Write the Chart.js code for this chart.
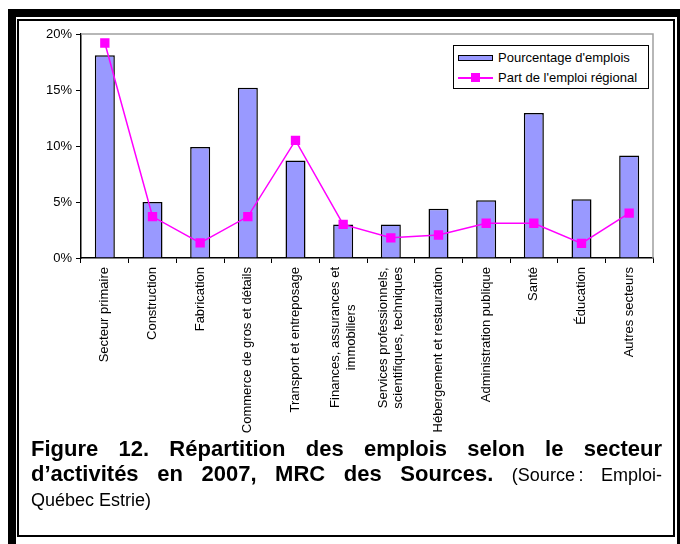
<!DOCTYPE html>
<html>
<head>
<meta charset="utf-8">
<script src="https://cdn.jsdelivr.net/npm/chart.js@4.4.1/dist/chart.umd.min.js"></script>
<style>
  html, body { margin: 0; padding: 0; background: #fff; }
  body { width: 680px; height: 544px; position: relative; overflow: hidden; font-family: "Liberation Sans", Arial, sans-serif; }
  .frame-outer { position: absolute; left: 8px; top: 9px; width: 677px; height: 545px; border: 8px solid #000; box-sizing: border-box; }
  .frame-inner { position: absolute; left: 17px; top: 19px; width: 658px; height: 518px; border: 2px solid #000; box-sizing: border-box; }
  #wrap { position: absolute; left: 18px; top: 20px; width: 654px; height: 420px; }
  #legend { position: absolute; left: 453px; top: 45px; width: 196px; height: 44px; border: 1px solid #000; box-sizing: border-box; background: #fff; font-size: 13px; color: #000; }
  #legend .item { position: absolute; left: 4px; height: 16px; line-height: 16px; white-space: nowrap; }
  #legend .sw { position: absolute; left: 0; width: 35px; }
  #legend .txt { position: absolute; left: 40px; top: 0; }
  #caption { position: absolute; left: 31px; top: 436px; width: 631px; color: #000; }
  #caption .j { font-weight: bold; font-size: 22px; line-height: 25px; text-align: justify; text-align-last: justify; white-space: nowrap; }
  #caption .src { font-weight: normal; font-size: 18px; }
  #caption .last { font-size: 18px; line-height: 24px; }
</style>
</head>
<body>
<div class="frame-outer"></div>
<div class="frame-inner"></div>
<div id="wrap"><canvas id="chart"></canvas></div>
<div id="legend">
  <div class="item" style="top:4px">
    <div class="sw" style="top:5px;height:6px;background:#9999ff;border:1.5px solid #000;box-sizing:border-box;"></div>
    <div class="txt">Pourcentage d'emplois</div>
  </div>
  <div class="item" style="top:24px">
    <div class="sw" style="top:7px;height:2px;background:#ff00ff;"></div>
    <div class="sw" style="left:13px;width:9px;top:3px;height:9px;background:#ff00ff;"></div>
    <div class="txt">Part de l'emploi régional</div>
  </div>
</div>
<div id="caption">
  <div class="j">Figure 12. Répartition des emplois selon le secteur</div>
  <div class="j">d’activités en 2007, MRC des Sources. <span class="src">(Source&#8239;: Emploi-</span></div>
  <div class="last">Québec Estrie)</div>
</div>
<script>
// ======================================
// DATA
// ======================================
const secteurs = [
    "Secteur primaire",
    "Construction",
    "Fabrication",
    "Commerce de gros et détails",
    "Transport et entreposage",
    ["Finances, assurances et", "immobiliers"],
    ["Services professionnels,", "scientifiques, techniques"],
    "Hébergement et restauration",
    "Administration publique",
    "Santé",
    "Éducation",
    "Autres secteurs"
];
// % des emplois de la MRC (barres)
const pourcentageEmplois = [18.1, 5.0, 9.9, 15.2, 8.7, 3.0, 3.0, 4.4, 5.15, 12.95, 5.25, 9.15];
// part de l'emploi régional (ligne)
const partRegionale = [19.2, 3.7, 1.35, 3.7, 10.5, 3.0, 1.8, 2.05, 3.1, 3.1, 1.3, 4.0];
const yTicks = [0, 5, 10, 15, 20];

// ======================================
// PLUGINS
// ======================================
// gray border on top and right of the plot area
const plotFrame = {
    id: "plotFrame",
    beforeDatasetsDraw(c) {
        const a = c.chartArea;
        const g = c.ctx;
        g.save();
        g.strokeStyle = "#a0a0a0";
        g.lineWidth = 1.5;
        g.beginPath();
        g.moveTo(a.left, a.top);
        g.lineTo(a.right, a.top);
        g.lineTo(a.right, a.bottom);
        g.stroke();
        g.restore();
    }
};

// center two-line rotated labels on their category (like Excel does)
const centerMultiLine = {
    id: "centerMultiLine",
    beforeDraw(c) {
        const items = c.scales.x.getLabelItems();
        const g = c.ctx;
        items.forEach(it => {
            if (!Array.isArray(it.label) || it._done) return;
            g.save();
            g.font = it.font.string;
            const w = Math.max(...it.label.map(l => g.measureText(l).width));
            g.restore();
            const t = it.options.translation;
            it.options.translation = [t[0] - it.font.lineHeight / 2, t[1] + w / 2];
            it.options.textAlign = "center";
            it._done = true;
        });
    }
};

// ======================================
// CHART INIT
// ======================================
Chart.defaults.font.family = "'Liberation Sans', Arial, sans-serif";
Chart.defaults.font.size = 13;
Chart.defaults.color = "#000";

const chart = new Chart(document.getElementById("chart"), {
    data: {
        labels: secteurs,
        datasets: [
            {
                type: "line",
                label: "Part de l'emploi régional",
                data: partRegionale,
                borderColor: "#ff00ff",
                backgroundColor: "#ff00ff",
                borderWidth: 1.5,
                pointStyle: "rect",
                pointRadius: 6.6,
                pointBorderWidth: 0,
                tension: 0,
                order: 0
            },
            {
                type: "bar",
                label: "Pourcentage d'emplois",
                data: pourcentageEmplois,
                backgroundColor: "#9999ff",
                borderColor: "#000",
                borderWidth: 1.5,
                categoryPercentage: 1,
                barPercentage: 0.42,
                order: 1
            }
        ]
    },
    options: {
        responsive: true,
        maintainAspectRatio: false,
        animation: false,
        layout: { padding: { top: 14, right: 19, left: 0, bottom: 0 } },
        plugins: {
            legend: { display: false },
            tooltip: { enabled: false }
        },
        scales: {
            x: {
                offset: true,
                grid: { offset: true, drawOnChartArea: false, tickLength: 5, color: "#000", lineWidth: 1 },
                border: { color: "#000", width: 1.5 },
                ticks: { minRotation: 90, maxRotation: 90, padding: 4, font: { size: 13 } },
                afterFit(s) { s.height = 182; }
            },
            y: {
                min: 0,
                max: 20,
                afterBuildTicks(s) { s.ticks = yTicks.map(v => ({ value: v })); },
                grid: { drawOnChartArea: false, tickLength: 5, color: "#000" },
                border: { color: "#000", width: 1.5 },
                ticks: { padding: 4, callback: v => v + "%" },
                afterFit(s) { s.width = 63; }
            }
        }
    },
    plugins: [plotFrame, centerMultiLine]
});
</script>
</body>
</html>
